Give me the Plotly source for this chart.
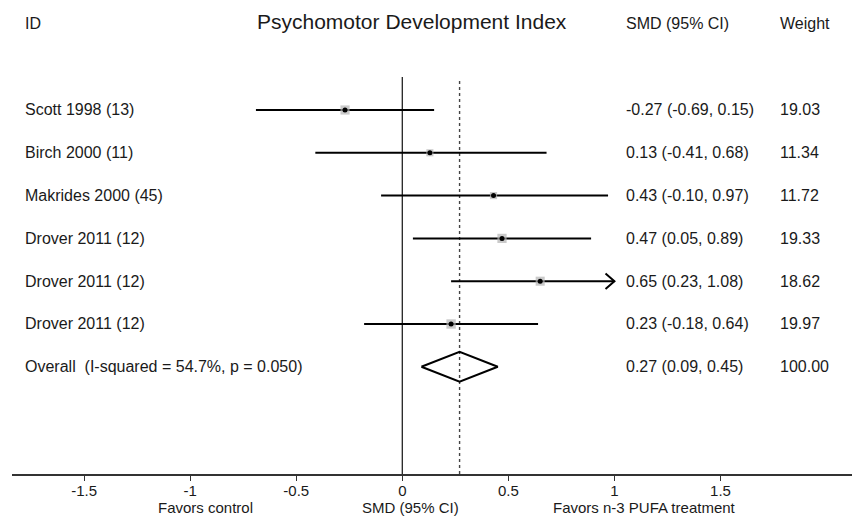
import plotly.graph_objects as go

# ---------------- data ----------------
study_labels = ["Scott 1998 (13)", "Birch 2000 (11)", "Makrides 2000 (45)",
                "Drover 2011 (12)", "Drover 2011 (12)", "Drover 2011 (12)"]
smd = [-0.27, 0.13, 0.43, 0.47, 0.65, 0.23]
ci_low = [-0.69, -0.41, -0.10, 0.05, 0.23, -0.18]
ci_high = [0.15, 0.68, 0.97, 0.89, 1.08, 0.64]
weights = [19.03, 11.34, 11.72, 19.33, 18.62, 19.97]
smd_text = ["-0.27 (-0.69, 0.15)", "0.13 (-0.41, 0.68)", "0.43 (-0.10, 0.97)",
            "0.47 (0.05, 0.89)", "0.65 (0.23, 1.08)", "0.23 (-0.18, 0.64)"]
weight_text = ["19.03", "11.34", "11.72", "19.33", "18.62", "19.97"]

overall_label = "Overall  (I-squared = 54.7%, p = 0.050)"
overall_smd = 0.27
overall_low = 0.09
overall_high = 0.45
overall_text = "0.27 (0.09, 0.45)"
overall_weight_text = "100.00"

tick_vals = [-1.5, -1, -0.5, 0, 0.5, 1, 1.5]
tick_text = ["-1.5", "-1", "-0.5", "0", "0.5", "1", "1.5"]
ci_clip = 1.0  # CIs beyond this are drawn with an arrow

title = "Psychomotor Development Index"
header_id = "ID"
header_smd = "SMD (95% CI)"
header_weight = "Weight"
left_note = "Favors control"
mid_note = "SMD (95% CI)"
right_note = "Favors n-3 PUFA treatment"

# ---------------- layout constants ----------------
FONT = "Liberation Sans, Arial, sans-serif"
TXT = "#1a1a1a"
X_RANGE = [-1.84, 2.12]
Y_RANGE = [9.505, -1.57]
rows = list(range(1, len(study_labels) + 1))
overall_row = len(study_labels) + 1
x_label = -1.79
x_smd = 1.045
x_weight = 1.77
header_row = -1.03
note_y_paper = -0.0717

fig = go.Figure()

# reference lines
fig.add_shape(type="line", x0=0, x1=0, y0=0.23, y1=Y_RANGE[0], xref="x", yref="y",
              line=dict(color="#222222", width=1.3), layer="below")
fig.add_shape(type="line", x0=overall_smd, x1=overall_smd, y0=0.32, y1=Y_RANGE[0],
              xref="x", yref="y", line=dict(color="#444444", width=1.4, dash="3px,3px"),
              layer="below")

# CI lines
for r, lo, hi in zip(rows, ci_low, ci_high):
    hi_d = min(hi, ci_clip)
    fig.add_trace(go.Scatter(x=[lo, hi_d], y=[r, r], mode="lines",
                             line=dict(color="black", width=2), hoverinfo="skip",
                             showlegend=False))
    if hi > ci_clip:
        ax = 0.042
        ay = 0.18
        fig.add_trace(go.Scatter(x=[hi_d - ax, hi_d, hi_d - ax], y=[r - ay, r, r + ay],
                                 mode="lines", line=dict(color="black", width=2),
                                 hoverinfo="skip", showlegend=False))

# weight squares
fig.add_trace(go.Scatter(x=smd, y=rows, mode="markers",
                         marker=dict(symbol="square", color="#b4b4b4",
                                     size=[2.1 * w ** 0.5 for w in weights],
                                     line=dict(width=0)),
                         hoverinfo="skip", showlegend=False))
fig.add_trace(go.Scatter(x=smd, y=rows, mode="markers",
                         marker=dict(symbol="circle", color="black", size=5),
                         showlegend=False))

# overall diamond
dh = 0.35
fig.add_trace(go.Scatter(x=[overall_low, overall_smd, overall_high, overall_smd, overall_low],
                         y=[overall_row, overall_row - dh, overall_row, overall_row + dh, overall_row],
                         mode="lines", line=dict(color="black", width=2),
                         hoverinfo="skip", showlegend=False))

# texts
ann = []
def add_text(x, y, text, anchor="left", size=16, yref="y"):
    ann.append(dict(x=x, y=y, xref="x", yref=yref, text=text, showarrow=False,
                    xanchor=anchor, yanchor="middle",
                    font=dict(family=FONT, size=size, color=TXT)))

add_text(x_label, header_row, header_id)
add_text(0.047, header_row - 0.04, title, anchor="center", size=21)
add_text(x_smd, header_row, header_smd)
add_text(x_weight, header_row, header_weight)
for r, lab, st, wt in zip(rows, study_labels, smd_text, weight_text):
    add_text(x_label, r, lab)
    add_text(x_smd, r, st)
    add_text(x_weight, r, wt)
add_text(x_label, overall_row, overall_label)
add_text(x_smd, overall_row, overall_text)
add_text(x_weight, overall_row, overall_weight_text)
add_text(-0.93, note_y_paper, left_note, anchor="center", size=15, yref="paper")
add_text(0.04, note_y_paper, mid_note, anchor="center", size=15, yref="paper")
add_text(1.14, note_y_paper, right_note, anchor="center", size=15, yref="paper")

fig.update_layout(
    width=852, height=517,
    margin=dict(l=12, r=0, t=0, b=43),
    paper_bgcolor="white", plot_bgcolor="white",
    annotations=ann,
    xaxis=dict(range=X_RANGE, showgrid=False, zeroline=False, showline=True,
               linecolor="#333333", linewidth=1.5, ticks="outside", ticklen=5,
               tickcolor="#333333", tickwidth=1.3, tickvals=tick_vals,
               ticktext=tick_text, tickfont=dict(family=FONT, size=15, color=TXT),
               ticklabelstandoff=-3, fixedrange=True),
    yaxis=dict(range=Y_RANGE, showgrid=False, zeroline=False, showline=False,
               showticklabels=False, fixedrange=True),
)

fig.write_html("out.html", config={"displayModeBar": False},
               post_script="document.body.style.margin='0';document.body.style.overflow='hidden';")
